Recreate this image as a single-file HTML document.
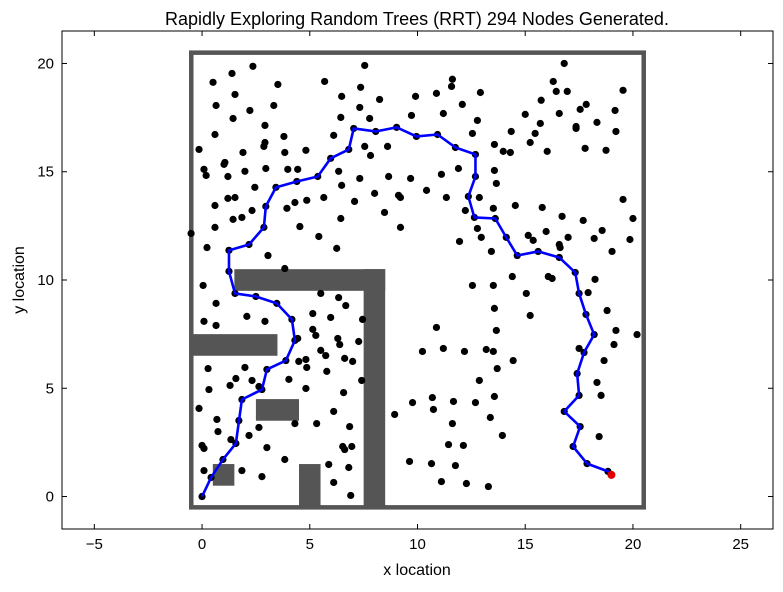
<!DOCTYPE html>
<html><head><meta charset="utf-8"><style>
body{margin:0;background:#fff;}
svg text{font-family:"Liberation Sans",sans-serif;}
</style></head><body>
<svg id="chart" width="783" height="587" xmlns="http://www.w3.org/2000/svg">
<rect x="0" y="0" width="783" height="587" fill="#fff"/>
<text x="417" y="25" font-size="18" text-anchor="middle">Rapidly Exploring Random Trees (RRT) 294 Nodes Generated.</text>
<text x="417" y="575" font-size="16" text-anchor="middle">x location</text>
<text x="24" y="280" font-size="16" text-anchor="middle" transform="rotate(-90 24 280)">y location</text>
<g id="marks"></g>
<rect x="62" y="31" width="711" height="498" fill="none" stroke="#000" stroke-width="1"/>
<g id="ticks"></g>
</svg>
<script>
const xTicks=[-5,0,5,10,15,20,25];
const yTicks=[0,5,10,15,20];
const boundary=[-0.5,-0.5,20.5,20.5];
const obstaclesX=[1.5,7.5,-0.5,2.5,0.5,4.5];
const obstaclesY=[9.5,-0.5,6.5,3.5,0.5,-0.5];
const obstaclesW=[7,1,4,2,1,1];
const obstaclesH=[1,11,1,1,1,2];
const nodesX=[2.36,1.39,0.51,3.52,5.69,7.55,7.36,6.48,8.24,9.91,1.53,0.65,2.22,3.33,1.44,2.92,6.44,7.32,7.78,9.72,0.60,3.80,2.92,2.87,6.11,-0.14,1.90,3.84,4.82,7.55,7.82,8.61,1.06,1.02,0.09,0.19,1.20,1.99,2.96,3.98,4.44,6.34,7.32,8.66,9.68,2.45,6.48,1.20,1.53,5.65,4.86,4.31,8.01,9.12,9.21,7.08,0.60,2.32,3.94,8.47,1.44,1.85,6.44,0.60,4.54,9.21,-0.51,5.42,0.23,6.25,3.06,3.84,0.05,
16.81,16.30,16.44,16.95,19.54,11.62,11.58,10.88,12.92,12.08,15.74,17.83,17.55,19.17,11.20,15.00,16.58,12.78,15.70,18.33,17.36,17.36,14.35,15.46,19.21,12.55,13.57,15.23,13.98,14.31,16.02,17.78,18.75,11.90,13.57,11.11,13.66,10.42,11.34,12.87,19.54,14.54,15.79,13.52,12.22,16.71,20.00,17.69,12.78,15.97,18.57,12.96,15.14,15.37,16.99,18.20,19.86,11.95,16.58,16.62,13.43,19.03,14.40,16.07,16.25,18.24,12.55,13.52,
5.51,6.34,6.67,0.65,2.08,2.92,5.14,5.97,7.45,0.09,0.65,5.14,5.28,4.44,6.30,6.39,7.27,5.51,5.74,6.62,6.99,4.49,4.82,4.86,5.79,0.28,1.99,1.57,2.32,4.03,7.41,1.30,0.32,2.64,4.82,6.57,-0.14,6.11,0.69,1.71,4.31,5.32,2.64,6.85,0.74,2.18,1.34,0.00,0.09,3.01,6.53,6.62,6.95,3.84,5.88,6.81,0.09,1.85,2.78,6.11,6.90,9.77,8.94,9.63,
15.05,17.92,13.57,15.23,18.80,10.88,13.66,19.21,20.19,19.12,10.23,11.20,12.18,13.19,13.52,14.44,18.66,13.70,12.87,18.33,18.52,13.57,10.69,11.67,12.69,10.74,13.38,11.62,13.94,18.43,11.44,12.13,10.65,11.76,11.11,12.27,13.29,17.50];
const nodesY=[19.87,19.54,19.13,19.03,19.17,19.91,18.90,18.48,18.34,18.48,18.57,18.06,17.83,18.06,17.46,17.14,17.51,17.97,17.46,17.60,16.72,16.63,16.35,16.17,16.68,16.03,15.89,15.89,15.99,16.17,15.75,16.17,15.43,15.34,15.11,14.83,14.78,15.02,15.15,15.11,15.11,15.02,14.69,14.78,14.69,14.28,14.37,13.77,13.81,13.81,13.68,13.58,14.00,13.91,13.81,13.63,13.44,13.21,13.31,13.12,12.80,12.89,12.84,12.43,12.47,12.43,12.15,12.01,11.50,11.46,11.13,10.53,9.75,
20.00,19.17,18.71,18.71,18.76,19.27,18.94,18.62,18.66,18.11,18.30,18.11,17.88,17.83,17.69,17.65,17.69,17.37,17.23,17.28,17.09,17.00,16.86,16.77,16.86,16.77,16.26,16.35,15.94,15.89,15.94,16.08,15.99,15.15,15.06,14.88,14.46,14.14,13.81,13.81,13.72,13.44,13.35,13.31,13.21,12.94,12.84,12.75,12.38,12.24,12.29,11.97,12.06,11.83,11.97,11.92,11.87,11.78,11.64,11.50,11.32,11.32,10.16,10.16,10.07,10.03,9.75,9.75,
9.38,9.19,8.82,8.92,8.32,8.09,8.45,8.27,8.18,8.09,7.90,7.72,7.44,7.30,7.30,7.02,7.16,6.75,6.51,6.38,6.24,6.24,6.33,5.96,5.78,5.91,5.96,5.45,5.36,5.41,5.36,5.13,4.94,5.08,4.99,4.80,4.07,3.93,3.56,3.51,3.37,3.37,3.19,3.23,3.00,2.82,2.63,2.36,2.22,2.26,2.31,2.17,2.31,1.71,1.48,1.34,1.20,1.20,0.92,0.65,0.05,4.34,3.79,1.62,
9.38,9.42,8.69,8.36,8.59,7.81,7.67,7.67,7.48,7.02,6.70,6.84,6.70,6.79,6.70,6.28,6.28,5.91,5.36,5.27,4.67,4.62,4.57,4.39,4.34,4.02,3.65,3.37,2.82,2.77,2.40,2.36,1.52,1.43,0.69,0.60,0.46,6.84];
const pathX=[0,0.42,0.97,1.57,1.85,2.78,3.01,3.89,4.31,4.17,3.47,2.50,1.53,1.25,1.25,2.18,2.87,2.96,3.43,4.40,5.37,5.97,6.81,7.04,8.06,9.03,9.95,10.93,11.76,12.69,12.69,12.36,12.64,13.61,14.12,14.63,15.60,16.58,17.32,17.50,17.82,18.20,17.73,17.41,17.50,16.81,17.55,17.22,17.87,18.84,19.0];
const pathY=[0,0.88,1.71,2.45,4.48,4.94,5.87,6.28,7.21,8.18,8.92,9.24,9.38,10.40,11.37,11.64,12.43,13.40,14.28,14.55,14.78,15.62,16.03,17.00,16.86,17.05,16.63,16.72,16.12,15.80,14.78,13.86,12.89,12.84,11.97,11.13,11.32,11.04,10.35,9.38,8.41,7.48,6.65,5.68,4.67,3.93,3.23,2.31,1.52,1.16,1.0];
const goal=[19,1];

const NS='http://www.w3.org/2000/svg';
const X0=62,X1=773,Y0=529,Y1=31,XMIN=-6.5,XMAX=26.5,YMIN=-1.5,YMAX=21.5;
function sx(v){return X0+(v-XMIN)/(XMAX-XMIN)*(X1-X0);}
function sy(v){return Y0-(v-YMIN)/(YMAX-YMIN)*(Y0-Y1);}
function mk(tag,attrs,parent){const e=document.createElementNS(NS,tag);for(const k in attrs)e.setAttribute(k,attrs[k]);parent.appendChild(e);return e;}
const marks=document.getElementById('marks');
for(let i=0;i<obstaclesX.length;i++){
  const r=mk('rect',{x:sx(obstaclesX[i]),y:sy(obstaclesY[i]+obstaclesH[i]),width:sx(obstaclesX[i]+obstaclesW[i])-sx(obstaclesX[i]),height:sy(obstaclesY[i])-sy(obstaclesY[i]+obstaclesH[i]),fill:'#555'},marks);
  
  
}
const b=mk('rect',{x:sx(boundary[0]),y:sy(boundary[3]),width:sx(boundary[2])-sx(boundary[0]),height:sy(boundary[1])-sy(boundary[3]),fill:'none',stroke:'#555','stroke-width':4.5},marks);


for(let i=0;i<nodesX.length;i++){
  const c=mk('circle',{cx:sx(nodesX[i]),cy:sy(nodesY[i]),r:3.6,fill:'#000'},marks);
  
  
}
for(let i=0;i<pathX.length;i++){
  const c=mk('circle',{cx:sx(pathX[i]),cy:sy(pathY[i]),r:3.6,fill:'#000'},marks);
  
  
}
const pl=mk('polyline',{points:pathX.map((v,i)=>sx(v)+','+sy(pathY[i])).join(' '),fill:'none',stroke:'#0000ff','stroke-width':2.6,'stroke-linejoin':'round'},marks);


const g=mk('circle',{cx:sx(goal[0]),cy:sy(goal[1]),r:4,fill:'#e00000'},marks);


const tk=document.getElementById('ticks');
xTicks.forEach(v=>{
  const x=sx(v);
  const t1=mk('line',{x1:x,x2:x,y1:Y0,y2:Y0-5,stroke:'#000'},tk);
  
  
  const t2=mk('line',{x1:x,x2:x,y1:Y1,y2:Y1+5,stroke:'#000'},tk);
  
  
  const l=mk('text',{x:x,y:Y0+20,'font-size':15,'text-anchor':'middle'},tk);
  l.textContent=(v<0?'\u2212'+(-v):String(v));
  
  
});
yTicks.forEach(v=>{
  const y=sy(v);
  const t1=mk('line',{x1:X0,x2:X0+5,y1:y,y2:y,stroke:'#000'},tk);
  
  
  const t2=mk('line',{x1:X1,x2:X1-5,y1:y,y2:y,stroke:'#000'},tk);
  
  
  const l=mk('text',{x:X0-8,y:y+5,'font-size':15,'text-anchor':'end'},tk);
  l.textContent=String(v);
  
  
});
</script>
</body></html>
